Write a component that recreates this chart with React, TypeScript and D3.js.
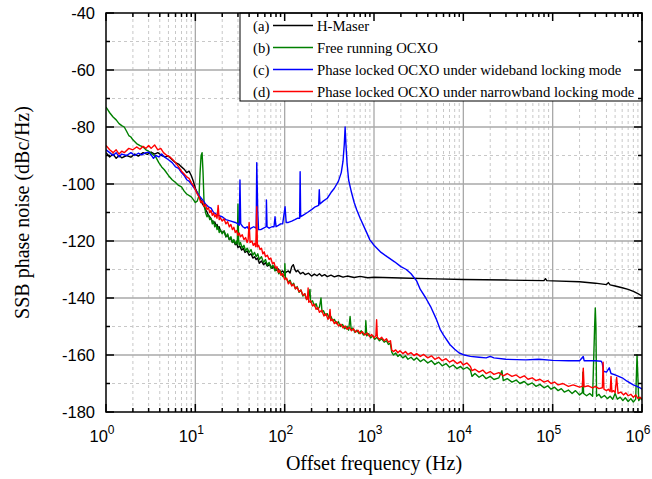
import React from 'react'
import * as d3 from 'd3'

// offset frequency (Hz), SSB phase noise (dBc/Hz)
const hMaser: [number, number][] = [
  [1,-89],[1.1,-90.5],[1.2,-89.5],[1.3,-91],[1.4,-90],[1.5,-90.8],[1.7,-90],[1.9,-90.6],[2.1,-89.5],[2.3,-90.2],
  [2.6,-89],[2.9,-89.6],[3.2,-88.8],[3.5,-89.5],[3.8,-89],[4.2,-90],[4.6,-90.5],[5,-90.2],[5.5,-91.5],[6,-92.5],
  [6.5,-93],[7,-94],[7.5,-94.8],[8,-96],[8.5,-95.5],[9,-97],[9.5,-99],
  [10,-101.5],[10.5,-103],[11,-104.5],[11.5,-105.5],[12,-107],[12.5,-107.8],[13,-109],[13.5,-109.8],[14,-111],
  [14.5,-111.5],[15,-112.3],[15.5,-113],[16,-113.8],[16.5,-113.3],[17,-114.5],[17.5,-114.2],[18,-115.5],
  [18.5,-115],[19,-116.3],[20,-117],[21,-116.5],[22,-118.5],[23,-118],[24,-119.5],[25,-119],[26,-120.5],
  [27,-120],[28,-121.3],[29,-120.8],[30,-122.3],[31.5,-121.8],[33,-123.2],[34.5,-122.6],[36,-124],[38,-123.5],
  [40,-125],[42,-124.5],[44,-126],[46,-125.5],[48,-126.5],[50,-126],[52,-127.8],[55,-127],[58,-128.3],
  [61,-127.6],[64,-128.8],[68,-128.2],[72,-129.6],[76,-129],[80,-130.3],[85,-129.8],[90,-131],[95,-130.5],
  [100,-131.5],[105,-130.8],[110,-130.5],[115,-131.2],[120,-129],[125,-128.3],[130,-130],[135,-130.8],
  [140,-130.3],[150,-131.5],[160,-131],[170,-131.8],[185,-131.3],[200,-132.3],[215,-131.6],[230,-132.2],
  [245,-131.5],[260,-132.3],[280,-131.8],[300,-132.5],[330,-132],[360,-132.6],[400,-132.1],[450,-132.7],
  [500,-132.3],[600,-132.8],[700,-132.4],[850,-132.9],[1000,-132.7],[2000,-133],[5000,-133.3],[1e4,-133.5],
  [3e4,-133.7],[8e4,-133.9],[8.3e4,-133.2],[8.6e4,-133.9],[1e5,-134],[2e5,-134.3],[3e5,-134.8],[4e5,-135.3],
  [4.2e5,-134.6],[4.4e5,-135.4],[5e5,-135.8],[6e5,-136.4],[7e5,-137],[8e5,-137.7],[9e5,-138.5],[1e6,-139.3],
]

const freeOcxo: [number, number][] = [
  [1,-73],[1.1,-75],[1.2,-76.5],[1.3,-77.5],[1.4,-78.8],[1.5,-79.5],[1.6,-80],[1.7,-81.5],[1.8,-83],[1.9,-83.5],
  [2,-84.5],[2.2,-85.8],[2.4,-86.5],[2.6,-87],[2.8,-88],[3,-88.5],[3.3,-89.5],[3.6,-90.5],[3.9,-92.5],[4.2,-94],
  [4.5,-95],[5,-97],[5.5,-98.5],[6,-99.5],[6.5,-100.5],[7,-101],[7.5,-102.5],[8,-103.5],[9,-104.5],[9.5,-105.5],
  [10,-106.5],[10.5,-106],[11,-104],[11.3,-96],[11.6,-90],[11.9,-89],[12.2,-96],[12.5,-106],
  [13,-110],[13.5,-111.5],[14,-110.8],[14.5,-112.5],[15,-112],[15.5,-114],[16,-113],[16.5,-115],[17,-114.2],
  [17.5,-116],[18,-115],[18.5,-117],[19,-116],[20,-117.5],[21,-116.5],[22,-118.5],[23,-117.5],[24,-119.5],
  [25,-118.5],[26,-120.5],[27,-119.5],[28,-121],[29,-120],[29.5,-121],[30,-107],[30.5,-119.5],[31,-121.5],
  [32,-120.5],[33.5,-122.5],[35,-121.5],[36.5,-123.5],[38,-122.5],[40,-124],[42,-123],[44,-125],[46,-124],
  [48,-125.5],[50,-124.5],[52,-126.5],[55,-125.5],[58,-127.5],[61,-126.5],[64,-128.5],[67,-127.5],[70,-129.5],
  [74,-128.5],[78,-130.5],[82,-129.5],[86,-131.5],[90,-130.5],[95,-132.5],[100,-131.5],[100.5,-128],[102,-133],
  [106,-133.5],[110,-134.5],[115,-133.8],[120,-135.5],[126,-134.8],[132,-136.8],[138,-136],[145,-138],
  [152,-137.2],[160,-139.3],[168,-138.5],[176,-140.5],[185,-139.8],[192,-137],[195,-141.5],[205,-141],
  [215,-142.8],[225,-142],[235,-144],[245,-143.2],[255,-140],[262,-145],[272,-144.5],[285,-146],[300,-145.5],
  [315,-147],[330,-146.5],[345,-148],[360,-147.5],[380,-149],[400,-148.3],[420,-150],[445,-149.3],[470,-150.8],
  [500,-150],[520,-151.3],[540,-146.5],[555,-151],[580,-150.5],[610,-152],[640,-151.3],[680,-152.5],
  [720,-151.5],[760,-153],[800,-152.3],[810,-148],[830,-153.3],[870,-152.5],[920,-154],[970,-153.2],
  [1020,-154.5],[1080,-153.8],[1150,-155],[1220,-154.3],[1300,-155.5],[1380,-155],[1450,-156.3],[1520,-155.8],
  [1580,-159],[1650,-160],[1750,-159.3],[1850,-160.5],[1950,-159.8],[2100,-161],[2250,-160.3],[2400,-161.5],
  [2600,-160.8],[2800,-161.8],[3000,-161],[3300,-162.3],[3600,-161.5],[4000,-162.8],[4400,-162],[4800,-163.3],
  [5300,-162.5],[5800,-163.8],[6400,-163],[7000,-164.3],[7700,-163.5],[8500,-164.8],[9300,-164],[1e4,-165],
  [1.1e4,-164.3],[1.2e4,-165.3],[1.25e4,-167.5],[1.35e4,-166.5],[1.5e4,-167.8],[1.65e4,-167],[1.8e4,-168.3],
  [2e4,-167.5],[2.2e4,-168.6],[2.5e4,-168],[2.7e4,-165.5],[2.8e4,-169],[3.1e4,-168.3],[3.5e4,-169.5],
  [3.9e4,-168.8],[4.3e4,-170],[4.8e4,-169.3],[5.3e4,-170.5],[5.9e4,-169.8],[6.5e4,-171],[7.2e4,-170.3],
  [8e4,-171.5],[8.8e4,-170.8],[9.6e4,-172],[1.05e5,-171.3],[1.15e5,-172.5],[1.25e5,-171.8],[1.35e5,-173],
  [1.5e5,-172.3],[1.65e5,-173.5],[1.8e5,-172.5],[2e5,-174],[2.15e5,-173.2],[2.18e5,-166],[2.22e5,-173.5],
  [2.4e5,-174.3],[2.6e5,-173.5],[2.8e5,-174.5],[2.95e5,-150],[3e5,-143.5],[3.05e5,-150],[3.1e5,-174.5],
  [3.3e5,-173.8],[3.5e5,-175],[3.8e5,-174.2],[4.1e5,-175.3],[4.4e5,-174.5],[4.7e5,-175.5],[5e5,-173.5],
  [5.3e5,-175.5],[5.7e5,-174.8],[6.1e5,-176],[6.5e5,-175],[7e5,-176.3],[7.5e5,-175.3],[8e5,-176.5],
  [8.5e5,-175.5],[8.6e5,-170],[8.8e5,-160],[9e5,-168],[9.2e5,-176],[9.6e5,-175],[1e6,-175.8],
]

const wideband: [number, number][] = [
  [1,-88],[1.1,-89],[1.2,-90],[1.3,-89],[1.4,-90.5],[1.5,-89.5],[1.7,-90],[1.9,-89],[2.1,-90],[2.3,-89.2],
  [2.5,-89.8],[2.8,-89],[3,-88.8],[3.2,-89.8],[3.4,-91],[3.6,-90],[3.9,-90.5],[4.2,-89.5],[4.5,-90.5],[5,-91.5],
  [5.5,-92.5],[6,-94],[6.5,-94.5],[7,-96],[7.5,-97],[8,-98.5],[8.5,-99],[9,-100],[10,-102],[11,-104],[12,-105.5],
  [13,-107],[14,-108],[15,-108.5],[16,-110],[18,-111],[20,-111.5],[22,-112.5],[25,-113],[28,-113.5],[30,-114],
  [31,-114.5],[31.6,-98.6],[32.2,-114],[34,-115],[36,-115.5],[38,-115],[40,-116],[42,-115.5],[45,-115],
  [48,-115.5],[48.7,-92.5],[50,-110],[51,-116],[54,-116],[58,-115.5],[62,-115],[62.5,-105.6],[63.5,-115],
  [67,-115.5],[72,-115],[76,-115],[78,-111.5],[80,-115],[85,-114.5],[90,-114],[95,-114],[101,-108],[104,-113.5],
  [110,-113.5],[120,-113],[130,-112.5],[140,-112],[147,-112],[149,-95.7],[151,-111.5],[160,-111],[180,-110],
  [200,-109],[220,-108],[240,-107.5],[244,-102],[248,-107],[270,-106],[300,-105],[330,-103],[360,-101.5],
  [400,-99],[430,-96],[450,-92],[465,-86],[475,-80],[485,-86],[500,-93],[520,-98.6],[560,-103],[600,-106.5],
  [640,-109],[700,-112],[800,-116],[900,-119.6],[1000,-121.5],[1200,-124],[1400,-125.5],[1700,-127.3],
  [2000,-129],[2300,-130],[2600,-131.5],[3000,-134],[3300,-137],[3800,-140],[4300,-143],[5000,-147.5],
  [5500,-151],[6000,-153],[7100,-156.4],[8000,-158],[9000,-159.3],[1e4,-159.9],[1.2e4,-160.5],[1.5e4,-160.8],
  [1.8e4,-161],[2e4,-160.5],[2.2e4,-161],[3e4,-161.5],[5e4,-161.7],[7e4,-161.5],[1e5,-161.9],[1.5e5,-162],
  [2e5,-162],[2.2e5,-160.5],[2.25e5,-162],[3e5,-162],[3.5e5,-162.2],[3.6e5,-163],[3.7e5,-165.7],[4e5,-166],
  [4.3e5,-164.5],[4.5e5,-166.5],[5e5,-167],[6e5,-168],[6.8e5,-169.2],[8e5,-170.5],[8.8e5,-171],[9.5e5,-171.5],
  [1e6,-172],
]

const narrowband: [number, number][] = [
  [1,-86.5],[1.1,-88],[1.2,-89],[1.3,-88],[1.4,-89.5],[1.5,-88.5],[1.6,-89],[1.8,-87.5],[2,-88],[2.2,-87],
  [2.4,-87.8],[2.6,-86.8],[2.8,-87.5],[3,-86.5],[3.2,-87.5],[3.5,-86.3],[3.8,-88],[4.1,-87.5],[4.4,-89],
  [4.8,-90],[5.2,-90.5],[5.6,-91.5],[6,-92.5],[6.5,-94],[7,-95.5],[7.5,-96.5],[8,-97.5],[8.5,-98],[9,-99.5],
  [9.5,-100.5],[10,-102],[10.5,-103.5],[11,-104.5],[11.5,-106.5],[12,-106],[12.5,-107.8],[13,-107.2],
  [13.5,-109],[14,-108.3],[14.5,-110],[15,-109.3],[15.5,-111],[16,-110.2],[16.5,-111.5],[17,-110.8],
  [17.5,-112],[18,-107.5],[18.5,-112.5],[19,-111.8],[20,-113],[21,-112.3],[22,-114],[23,-113.2],[24,-115],
  [25,-114.2],[26,-116],[27,-115.2],[28,-117],[29,-116.3],[30,-118],[31,-117.2],[32,-118.5],[33.5,-117.8],
  [35,-119.5],[36.5,-118.8],[38,-120.5],[39,-119.5],[40,-113.5],[41,-120.5],[43,-120],[44.5,-121.5],[46,-120.8],
  [47.5,-122],[48.7,-108],[49.5,-122],[51,-121.5],[53,-123],[55,-122.5],[57,-124.5],[59,-123.8],[61,-125.5],
  [64,-125],[67,-126.5],[70,-126],[73,-128],[76,-127.5],[79,-129.5],[82,-129],[85,-131],[88,-130.3],[91,-132],
  [95,-131.5],[100,-133.5],[105,-133],[110,-135],[115,-134.3],[120,-135.8],[126,-135.2],[132,-136.8],
  [138,-136.2],[145,-137.8],[152,-137.2],[160,-139],[168,-138.5],[176,-140.5],[180,-140],[183,-136.5],
  [186,-141.5],[195,-141],[205,-142.8],[215,-142.2],[225,-144],[235,-143.3],[245,-145],[260,-144.3],
  [275,-146.3],[290,-145.5],[305,-147.5],[315,-146.8],[322,-144],[328,-148],[345,-147.5],[360,-149],
  [380,-148.3],[400,-149.8],[425,-149.2],[450,-150.5],[475,-149.8],[500,-151],[530,-150.3],[560,-151.5],
  [590,-150.8],[620,-152],[660,-151.3],[700,-152.5],[740,-151.8],[790,-153],[840,-152.3],[890,-153.5],
  [940,-152.8],[1000,-154],[1050,-153.2],[1070,-147.6],[1090,-153.8],[1150,-154.5],[1220,-153.8],[1300,-155],
  [1380,-154.3],[1450,-155.5],[1530,-155],[1580,-158.3],[1650,-158.8],[1750,-158.2],[1850,-159.2],
  [1950,-158.5],[2100,-159.5],[2250,-158.8],[2400,-159.8],[2600,-159.2],[2800,-160.2],[3000,-159.5],
  [3300,-160.5],[3600,-159.8],[4000,-161],[4400,-160.3],[4800,-161.5],[5300,-160.8],[5800,-162],[6400,-161.3],
  [7000,-162.5],[7700,-161.8],[8500,-163],[9300,-162.3],[1e4,-163.5],[1.1e4,-162.8],[1.2e4,-164],
  [1.25e4,-165.5],[1.35e4,-165],[1.5e4,-166],[1.65e4,-165.3],[1.8e4,-166.5],[2e4,-165.8],[2.2e4,-166.8],
  [2.5e4,-166.2],[2.8e4,-167.3],[3.1e4,-166.5],[3.5e4,-167.5],[3.9e4,-167],[4.3e4,-168],[4.8e4,-167.3],
  [5.3e4,-168.5],[5.9e4,-168],[6.5e4,-169],[7.2e4,-168.5],[8e4,-169.5],[8.8e4,-169],[9.6e4,-170],
  [1.05e5,-169.5],[1.15e5,-170.5],[1.3e5,-170],[1.5e5,-171],[1.7e5,-170.5],[2e5,-171.3],[2.15e5,-171],
  [2.2e5,-164.6],[2.25e5,-171.2],[2.5e5,-170.8],[2.8e5,-171.5],[3e5,-171],[3.3e5,-171.8],[3.6e5,-171.5],
  [3.67e5,-162.5],[3.75e5,-172],[4e5,-172.5],[4.2e5,-172],[4.4e5,-172.8],[4.5e5,-167.5],[4.6e5,-173],
  [4.8e5,-172.5],[5e5,-173.2],[5.2e5,-167.9],[5.4e5,-173.5],[5.8e5,-173],[6.2e5,-174],[6.6e5,-173.3],
  [7e5,-174.3],[7.5e5,-173.8],[8e5,-174.8],[8.5e5,-174],[9e5,-175.2],[9.5e5,-174.8],[1e6,-175.5],
]

const seriesTags = ['(a)', '(b)', '(c)', '(d)']
const seriesNames = [
  'H-Maser',
  'Free running OCXO',
  'Phase locked OCXO under wideband locking mode',
  'Phase locked OCXO under narrowband locking mode',
]
const seriesColors = ['#000000', '#008000', '#0000ff', '#ff0000']
const yTicks = [-180, -160, -140, -120, -100, -80, -60, -40]
const xExponents = [0, 1, 2, 3, 4, 5, 6]

const W = 652, H = 479
const M = { left: 106, right: 10, top: 13, bottom: 67 }

export default function App() {
  const x = d3.scaleLog().domain([1, 1e6]).range([M.left, W - M.right])
  const y = d3.scaleLinear().domain([-180, -40]).range([H - M.bottom, M.top])
  const line = d3.line<[number, number]>().x(d => x(d[0])).y(d => y(d[1]))
  const all = [hMaser, freeOcxo, wideband, narrowband]

  const minorX: number[] = []
  xExponents.slice(0, -1).forEach(e => { for (let k = 2; k < 10; k++) minorX.push(k * Math.pow(10, e)) })
  const minorY = d3.range(-170, -40, 20)

  const x0 = x.range()[0], x1 = x.range()[1]
  const y0 = y.range()[0], y1 = y.range()[1]
  const sans = 'Liberation Sans, Arial, sans-serif'
  const serif = 'Liberation Serif, Times New Roman, serif'

  const legX = 240, legY = y1, legW = x1 - 240, legH = 88, rowH = 22

  return (
    <svg width={W} height={H} style={{ position: 'absolute', left: 0, top: 0, background: '#fff' }}>
      <defs>
        <clipPath id="plot"><rect x={x0} y={y1} width={x1 - x0} height={y0 - y1} /></clipPath>
      </defs>
      {/* grid */}
      <g>
        {minorX.map(v => <line key={'mx' + v} x1={x(v)} x2={x(v)} y1={y0} y2={y1} stroke="#c8c8c8" strokeDasharray="3,3" />)}
        {minorY.map(v => <line key={'my' + v} x1={x0} x2={x1} y1={y(v)} y2={y(v)} stroke="#c8c8c8" strokeDasharray="3,3" />)}
        {xExponents.slice(1, -1).map(e => <line key={'gx' + e} x1={x(Math.pow(10, e))} x2={x(Math.pow(10, e))} y1={y0} y2={y1} stroke="#a8a8a8" strokeWidth={1.3} />)}
        {yTicks.slice(1, -1).map(v => <line key={'gy' + v} x1={x0} x2={x1} y1={y(v)} y2={y(v)} stroke="#a8a8a8" strokeWidth={1.3} />)}
      </g>
      {/* curves */}
      <g clipPath="url(#plot)">
        {all.map((s, i) => <path key={i} d={line(s) || ''} fill="none" stroke={seriesColors[i]} strokeWidth={1.4} strokeLinejoin="round" />)}
      </g>
      {/* legend */}
      <g>
        <rect x={legX} y={legY} width={legW} height={legH} fill="#fff" stroke="#000" strokeWidth={1} />
        {seriesNames.map((n, i) => {
          const cy = legY + 12.5 + i * rowH
          return (
            <g key={n} fontFamily={serif} fontSize={14.7}>
              <text x={253} y={cy + 5}>{seriesTags[i]}</text>
              <line x1={273} x2={313} y1={cy} y2={cy} stroke={seriesColors[i]} strokeWidth={1.5} />
              <text x={317} y={cy + 5}>{n}</text>
            </g>
          )
        })}
      </g>
      {/* frame and ticks */}
      <g stroke="#000" strokeWidth={1.5}>
        <rect x={x0} y={y1} width={x1 - x0} height={y0 - y1} fill="none" />
        {yTicks.map(v => <g key={'ty' + v}>
          <line x1={x0} x2={x0 + 8} y1={y(v)} y2={y(v)} />
          <line x1={x1} x2={x1 - 8} y1={y(v)} y2={y(v)} />
        </g>)}
        {minorY.map(v => <g key={'tmy' + v}>
          <line x1={x0} x2={x0 + 4} y1={y(v)} y2={y(v)} />
          <line x1={x1} x2={x1 - 4} y1={y(v)} y2={y(v)} />
        </g>)}
        {xExponents.map(e => <g key={'tx' + e}>
          <line x1={x(Math.pow(10, e))} x2={x(Math.pow(10, e))} y1={y0} y2={y0 - 8} />
          <line x1={x(Math.pow(10, e))} x2={x(Math.pow(10, e))} y1={y1} y2={y1 + 8} />
        </g>)}
        {minorX.map(v => <g key={'tmx' + v}>
          <line x1={x(v)} x2={x(v)} y1={y0} y2={y0 - 4} />
          <line x1={x(v)} x2={x(v)} y1={y1} y2={y1 + 4} />
        </g>)}
      </g>
      {/* tick labels */}
      <g fontFamily={sans} fontSize={16.5} fill="#000">
        {yTicks.map(v => <text key={'ly' + v} x={x0 - 11} y={y(v) + 6} textAnchor="end">{v}</text>)}
        {xExponents.map(e => (
          <text key={'lx' + e} x={x(Math.pow(10, e)) - 4} y={y0 + 30} textAnchor="middle">
            10<tspan dy={-8} fontSize={12}>{e}</tspan>
          </text>
        ))}
      </g>
      {/* axis titles */}
      <text x={(x0 + x1) / 2} y={y0 + 58} textAnchor="middle" fontFamily={serif} fontSize={20}>Offset frequency (Hz)</text>
      <text transform={`translate(29,${(y0 + y1) / 2}) rotate(-90)`} textAnchor="middle" fontFamily={serif} fontSize={20}>SSB phase noise (dBc/Hz)</text>
    </svg>
  )
}
